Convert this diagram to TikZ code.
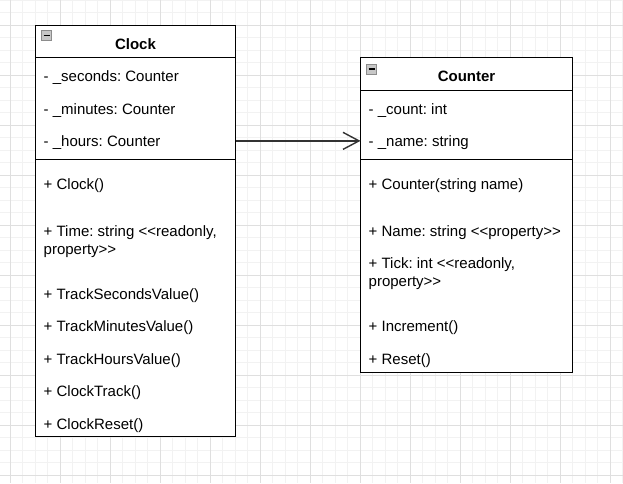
\documentclass[tikz,border=0pt]{standalone}
\usepackage{fontspec}
\setmainfont{Liberation Sans}
\usetikzlibrary{arrows.meta}

% << and >> without the TeX ligature
\newcommand{\dlt}{<\kern0pt<}
\newcommand{\dgt}{>\kern0pt>}

\begin{document}
\frenchspacing
\begin{tikzpicture}[x=1pt,y=-1pt,
    every node/.style={inner sep=0pt,font=\fontsize{15}{17.5}\selectfont},
    gridminor/.style={draw=gray!10,line width=0.8pt},
    gridmajor/.style={draw=gray!25,line width=0.8pt},
    classbox/.style={draw,line width=1.4pt,outer sep=0pt,fill=white,anchor=north west},
    classname/.style={font=\fontsize{15}{18}\selectfont\bfseries,anchor=base},
    member/.style={anchor=base west,align=left},
    sep/.style={line width=1.3pt},
    icon/.style={draw=black!45,fill=black!22,line width=0.8pt,minimum size=10pt},
    link/.style={draw=black!80,line width=1.4pt,-{Straight Barb[length=16pt,width=17pt,line width=1.4pt]}}]
  \useasboundingbox (0,0) rectangle (623,483);
  % background grid
  \fill[white] (0,0) rectangle (623,483);
  \foreach \x in {-2.5,10,...,622.5} \draw[gridminor] (\x,0) -- (\x,483);
  \foreach \y in {0,12.5,...,483} \draw[gridminor] (0,\y) -- (623,\y);
  \foreach \x in {10,60,...,610} \draw[gridmajor] (\x,0) -- (\x,483);
  \foreach \y in {25,75,...,475} \draw[gridmajor] (0,\y) -- (623,\y);

  % class Clock
  \node[classbox,minimum width=200pt,minimum height=411pt] (clock) at (35.5,25.5) {};
  \node[icon] (clockicon) at (46.7,35.7) {\rule{6pt}{1.5pt}};
  \node[classname] (clockname) at (135.5,49) {Clock};
  \draw[sep] (35.5,57.5) -- (235.5,57.5);
  \node[member] (seconds) at (43.5,81) {- \_seconds: Counter};
  \node[member] (minutes) at (43.5,114) {- \_minutes: Counter};
  \node[member] (hours)   at (43.5,146) {- \_hours: Counter};
  \draw[sep] (35.5,159.5) -- (235.5,159.5);
  \node[member] (clockctor) at (43.5,189) {+ Clock()};
  \node[member] (time)      at (43.5,254) {+ Time: string \dlt readonly,\\property\dgt};
  \node[member] (trksec)    at (43.5,299) {+ TrackSecondsValue()};
  \node[member] (trkmin)    at (43.5,331) {+ TrackMinutesValue()};
  \node[member] (trkhrs)    at (43.5,364) {+ TrackHoursValue()};
  \node[member] (clktrack)  at (43.5,396) {+ ClockTrack()};
  \node[member] (clkreset)  at (43.5,429) {+ ClockReset()};

  % class Counter
  \node[classbox,minimum width=212pt,minimum height=315pt] (counter) at (360.5,57.5) {};
  \node[icon] (countericon) at (371.7,69) {\rule{6pt}{1.5pt}};
  \node[classname] (countername) at (466.5,81) {Counter};
  \draw[sep] (360.5,90.5) -- (572.5,90.5);
  \node[member] (count) at (368.5,114) {- \_count: int};
  \node[member] (name)  at (368.5,146) {- \_name: string};
  \draw[sep] (360.5,159.5) -- (572.5,159.5);
  \node[member] (cntctor) at (368.5,189) {+ Counter(string name)};
  \node[member] (namep)   at (368.5,236) {+ Name: string \dlt property\dgt};
  \node[member] (tick)    at (368.5,286) {+ Tick: int \dlt readonly,\\property\dgt};
  \node[member] (incr)    at (368.5,331) {+ Increment()};
  \node[member] (reset)   at (368.5,364) {+ Reset()};

  % association
  \draw[link] ([yshift=2.5pt]hours.mid -| clock.east) -- ([yshift=2.5pt]hours.mid -| counter.west);
\end{tikzpicture}
\end{document}
